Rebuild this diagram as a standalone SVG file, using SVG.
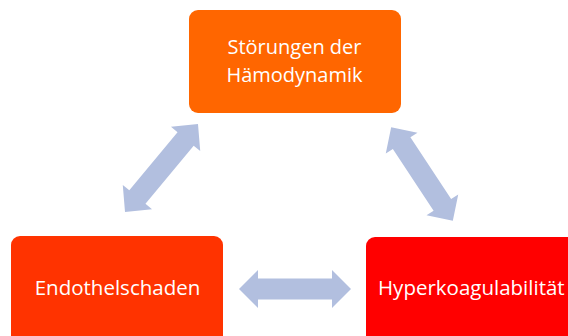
<svg xmlns="http://www.w3.org/2000/svg" width="568" height="336" viewBox="0 0 568 336">
<style>
.lbl{font-family:"Open Sans","Liberation Sans",sans-serif;font-size:20.5px;fill:#ffffff;text-anchor:middle}
.top{font-size:20px}
.arr{fill:#B2BFDF}
</style>
<defs>
<path id="dbl" d="M-56,0 L-37,-19 L-37,-10.5 L37,-10.5 L37,-19 L56,0 L37,19 L37,10.5 L-37,10.5 L-37,19 Z"/>
</defs>
<rect width="568" height="336" fill="#ffffff"/>
<g id="connectors">
<use href="#dbl" class="arr" transform="translate(295,289)"/>
<use href="#dbl" class="arr" transform="translate(161.5,168) rotate(-50.3) scale(1.02,1)"/>
<use href="#dbl" class="arr" transform="translate(422,174) rotate(56.6)"/>
</g>
<g id="node-haemodynamik">
<rect x="189" y="10" width="212" height="103" rx="9" fill="#FF6600"/>
<text class="lbl top" x="294.5" y="53.5">Störungen der</text>
<text class="lbl top" x="294.5" y="81.5">Hämodynamik</text>
</g>
<g id="node-endothel">
<rect x="11" y="236" width="212" height="110" rx="9" fill="#FF3300"/>
<text class="lbl" x="117.5" y="295">Endothelschaden</text>
</g>
<g id="node-hyper">
<rect x="366" y="237" width="230" height="110" rx="9" fill="#FF0000"/>
<text class="lbl" x="378" y="295" style="text-anchor:start">Hyperkoagulabilität</text>
</g>
</svg>
